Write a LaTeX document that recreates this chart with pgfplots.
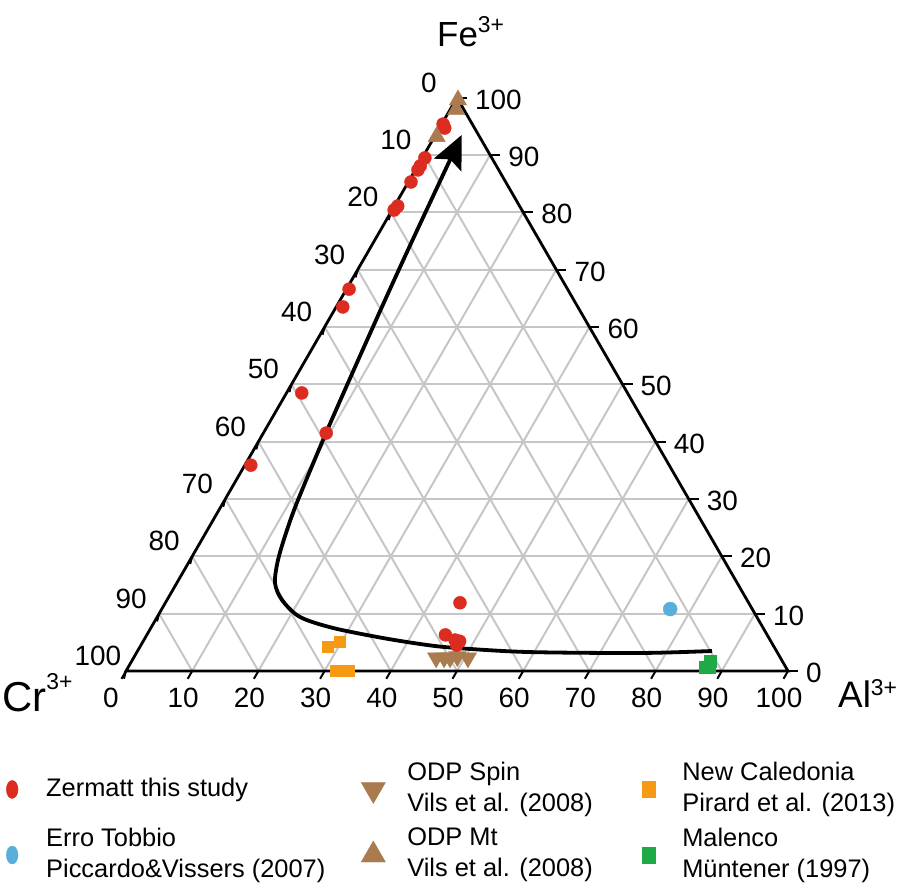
\documentclass[border=0pt]{standalone}
\usepackage{fontspec}
\setmainfont{Liberation Sans}
\usepackage{pgfplots}
\usepackage{pgfplotstable}
\pgfplotsset{compat=1.18}
\usetikzlibrary{arrows.meta,calc}
\pgfdeclarelayer{bg}
\pgfsetlayers{bg,main}

\definecolor{zred}{HTML}{DC2B1F}
\definecolor{eblue}{HTML}{5AAEDB}
\definecolor{brn}{HTML}{A97B4E}
\definecolor{orng}{HTML}{F59A12}
\definecolor{grn}{HTML}{1FAA47}
\definecolor{gridg}{HTML}{C6C6C6}

% ternary data: Al3+ and Fe3+ (Cr3+ = 100 - Al - Fe)
\pgfplotstableread{
Al Fe
0.2 95.4
0.8 94.7
0.4 89.5
0.4 88.1
0.4 87.4
0.4 85.3
0.5 81.1
0.3 80.4
0.4 66.6
1.0 63.5
2.3 48.5
9.5 41.5
0.9 35.9
44.5 11.9
45.1 6.3
47.0 5.4
47.8 5.2
47.7 4.5
}\zermatt
\pgfplotstableread{
Al Fe
45.7 2.3
46.9 2.3
47.8 2.3
48.8 2.5
50.5 2.3
}\odpspin
\pgfplotstableread{
Al Fe
28.4 4.2
29.8 5.1
31.7 0.0
32.8 0.0
33.7 0.0
}\newcal
\pgfplotstableread{
Al Fe
76.8 10.8
}\erro
\pgfplotstableread{
Al Fe
0.35 99.6
0.9 97.9
0.33 93.2
}\odpmt
\pgfplotstableread{
Al Fe
87.35 1.74
87.1 0.7
87.7 0.7
}\malenco

\newcommand{\ticksize}{\fontsize{28}{30}\selectfont}

\begin{document}
\begin{tikzpicture}
\begin{axis}[
  x=6.62bp, y=6.62bp,
  xmin=-19.0332, xmax=116.6163, ymin=-33.2326, ymax=101.3595,
  hide axis, clip=false,
  legend columns=3,
  legend cell align=left,
  legend style={at={(0,0.1448)}, anchor=north west, draw=none, fill=none,
    inner sep=0pt, row sep=11bp, font=\fontsize{25.5}{31}\selectfont,
    nodes={inner sep=0pt, text depth=}},
  legend image code/.code={\path[draw=none,fill=none] (0bp,-12bp) rectangle (46bp,12bp);
    \draw[mark repeat=2,mark phase=2,#1] plot coordinates {(0bp,0bp) (12bp,0bp) (24bp,0bp)};},
]
\coordinate (Cr) at (axis cs:0,0);
\coordinate (Al) at (axis cs:100,0);
\coordinate (Fe) at (axis cs:50,86.6025);

% arrow curve (Cartesian coordinates of the ternary plane)
\addplot[smooth, line width=3.8bp, black, forget plot,
  -{Stealth[length=33bp,width=30bp,inset=6bp]}] coordinates {
(88.52,3.02) (77.64,2.72) (60.57,2.87) (50.0,3.47) (45.47,3.93) (38.82,4.98)
(31.27,6.50) (26.28,8.16) (23.56,10.73) (22.51,13.29) (22.96,16.77)
(24.32,21.30) (25.98,25.83) (30.21,35.95) (34.67,46.07) (39.20,56.19)
(43.50,65.56) (50.71,80.97)};

\addplot[only marks, mark=triangle*, mark size=10bp, brn, mark options={rotate=180, draw=none}, forget plot]
  table[x expr=\thisrow{Al}+0.5*\thisrow{Fe}, y expr=0.866025*\thisrow{Fe}] {\odpspin};
\addplot[only marks, mark=square*, mark size=5.5bp, orng, mark options={draw=none}, forget plot]
  table[x expr=\thisrow{Al}+0.5*\thisrow{Fe}, y expr=0.866025*\thisrow{Fe}] {\newcal};
\addplot[only marks, mark=square*, mark size=6bp, grn, mark options={draw=none}, forget plot]
  table[x expr=\thisrow{Al}+0.5*\thisrow{Fe}, y expr=0.866025*\thisrow{Fe}] {\malenco};
\addplot[only marks, mark=*, mark size=7bp, eblue, mark options={draw=none}, forget plot]
  table[x expr=\thisrow{Al}+0.5*\thisrow{Fe}, y expr=0.866025*\thisrow{Fe}] {\erro};
\addplot[only marks, mark=*, mark size=6.5bp, zred, mark options={draw=none}, forget plot]
  table[x expr=\thisrow{Al}+0.5*\thisrow{Fe}, y expr=0.866025*\thisrow{Fe}] {\zermatt};
\addplot[only marks, mark=triangle*, mark size=10bp, brn, mark options={draw=none}, forget plot]
  table[x expr=\thisrow{Al}+0.5*\thisrow{Fe}, y expr=0.866025*\thisrow{Fe}] {\odpmt};

\addlegendimage{only marks, mark=*, mark size=9bp, zred, mark options={xscale=0.65, draw=none}}
\addlegendentry{\parbox{315bp}{Zermatt this study}}
\addlegendimage{only marks, mark=triangle*, mark size=14bp, brn, mark options={rotate=180, draw=none}}
\addlegendentry{\parbox{229bp}{\fontsize{25.5}{31}\selectfont ODP Spin\\Vils et al. (2008)}}
\addlegendimage{only marks, mark=square*, mark size=8bp, orng, mark options={xscale=0.8, draw=none}}
\addlegendentry{\parbox{214bp}{\fontsize{25.5}{31}\selectfont New Caledonia\\Pirard et al. (2013)}}
\addlegendimage{only marks, mark=*, mark size=9bp, eblue, mark options={xscale=0.65, draw=none}}
\addlegendentry{\parbox{315bp}{\fontsize{25.5}{31}\selectfont Erro Tobbio\\Piccardo\&Vissers (2007)}}
\addlegendimage{only marks, mark=triangle*, mark size=14bp, brn, mark options={draw=none}}
\addlegendentry{\parbox{229bp}{\fontsize{25.5}{31}\selectfont ODP Mt\\Vils et al. (2008)}}
\addlegendimage{only marks, mark=square*, mark size=8bp, grn, mark options={xscale=0.8, draw=none}}
\addlegendentry{\parbox{214bp}{\fontsize{25.5}{31}\selectfont Malenco\\Müntener (1997)}}
\end{axis}

\begin{pgfonlayer}{bg}
\foreach \k in {1,...,9}{
  \draw[gridg, line width=2bp] ($(Cr)!\k/10!(Fe)$) -- ($(Al)!\k/10!(Fe)$);
  \draw[gridg, line width=2bp] ($(Cr)!\k/10!(Al)$) -- ($(Fe)!\k/10!(Al)$);
  \draw[gridg, line width=2bp] ($(Al)!\k/10!(Cr)$) -- ($(Fe)!\k/10!(Cr)$);
}
\draw[line width=2.8bp] (Cr) -- (Al) -- (Fe) -- cycle;
\foreach \k in {0,...,10}{
  \draw[line width=2bp] ($(Cr)!\k/10!(Al)$) -- ++(240:9bp);
  \draw[line width=2bp] ($(Al)!\k/10!(Fe)$) -- ++(10bp,0);
  \draw[line width=2bp] ($(Fe)!\k/10!(Cr)$) -- ++(255:8bp);
}
\end{pgfonlayer}

\foreach \k in {0,...,10}{
  \pgfmathtruncatemacro\lab{10*\k}
  \pgfmathsetmacro\bx{\k==0 ? -15 : -9}
  \node[font=\ticksize] at ($(Cr)!\k/10!(Al)+(\bx bp,-27bp)$) {\lab};
  \node[font=\ticksize, anchor=west, inner sep=0pt] at ($(Al)!\k/10!(Fe)+(18bp,-2bp)$) {\lab};
  \node[font=\ticksize] at ($(Fe)!\k/10!(Cr)+(-28bp,15bp)$) {\lab};
}

\node[anchor=base west, inner sep=0pt, font=\fontsize{35}{35}\selectfont] at ($(Cr)+(311bp,624bp)$) {Fe\raisebox{14bp}{\fontsize{23}{23}\selectfont 3+}};
\node[anchor=base west, inner sep=0pt, font=\fontsize{42}{42}\selectfont] at ($(Cr)+(-124bp,-41bp)$) {Cr\raisebox{22bp}{\fontsize{23}{23}\selectfont 3+}};
\node[anchor=base west, inner sep=0pt, font=\fontsize{37}{37}\selectfont] at ($(Cr)+(712bp,-37bp)$) {Al\raisebox{12bp}{\fontsize{23}{23}\selectfont 3+}};

\pgfresetboundingbox
\path[use as bounding box] ($(Cr)+(-126bp,-220bp)$) rectangle ($(Cr)+(772bp,671bp)$);
\end{tikzpicture}
\end{document}
